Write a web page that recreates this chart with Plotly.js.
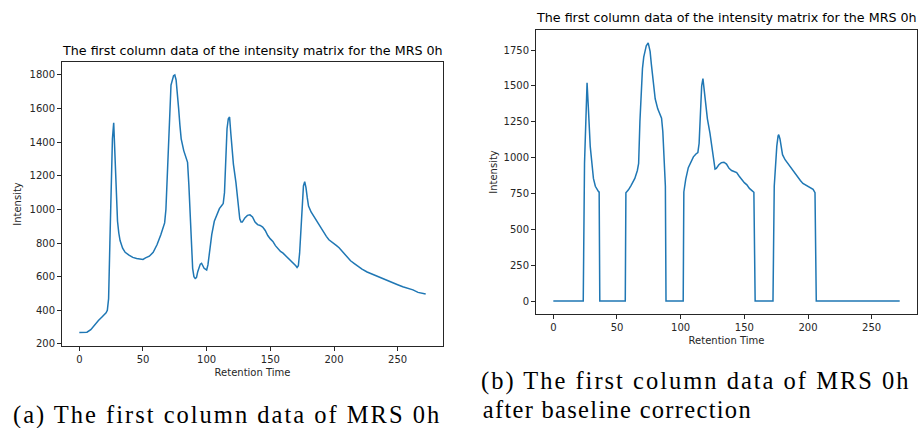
<!DOCTYPE html>
<html>
<head>
<meta charset="utf-8">
<script src="https://cdn.plot.ly/plotly-3.0.1.min.js"></script>
<style>
html,body{margin:0;padding:0;background:#fff;}
#chart{width:919px;height:428px;}
.annotation[data-index="2"] text{letter-spacing:2px;}
.annotation[data-index="3"] text{letter-spacing:2px;}
.annotation[data-index="4"] text{letter-spacing:1.3px;}
</style>
</head>
<body>
<div id="chart"></div>
<script>
// Left panel: raw first column (Retention Time vs Intensity)
const rawTime = [0,3,6,9,12,15,18,21,22,23,24,25,26,27,28,29,30,31,32,34,36,39,42,45,48,50,52,55,58,61,64,67,68,69,70,71,72,74,75,76,77,78,79,80,82,84,85,86,87,88,89,90,91,92,93,95,96,98,100,101,102,104,106,108,110,112,113,114,115,116,117,118,119,120,121,123,125,126,127,128,130,132,134,136,138,140,142,144,146,148,150,152,154,156,158,160,162,164,166,168,170,171,172,173,174,175,176,177,178,179,180,182,184,186,188,190,192,194,196,198,200,202,204,206,208,210,213,216,219,222,226,230,234,238,242,246,250,254,258,262,266,269,272];
const rawIntensity = [268,268,270,285,315,340,362,385,400,470,800,1150,1420,1515,1300,1050,930,860,815,770,745,728,715,708,705,703,712,722,745,790,850,920,1000,1200,1450,1650,1740,1795,1800,1770,1700,1600,1500,1420,1350,1300,1280,1150,950,770,650,600,590,595,630,675,680,650,640,670,740,850,930,970,1005,1025,1035,1100,1330,1480,1540,1550,1450,1330,1270,1160,1030,945,925,925,950,965,968,955,925,910,905,895,875,845,825,810,785,765,750,740,725,710,700,685,665,655,665,740,900,1060,1140,1165,1130,1070,1020,985,960,935,910,885,860,840,820,810,795,785,772,755,735,715,695,678,660,645,628,615,603,587,576,563,552,540,530,522,507,500,497];

// Right panel: after baseline correction
const corrTime = [0,23.5,24.5,25.5,26.5,27.5,29,31.5,33,35.5,36,36.5,56.5,57,59,61,64,66,67,68,69,70,71,73,74.5,76,77,78,80,82,84,85,86,87,88,88.5,102,102.5,104,106,108,110,112,113.5,114.5,115.5,116.5,117.5,118.5,120,121,123,125,126,127,128,130,132,134,136,138,140,142,144,146,148,150,152,154,156,157.5,158.5,172.5,173.5,174.5,175.5,176.5,177,178,179,180,182,184,186,188,190,192,194,196,198,200,202,204,205.5,206.5,272];
const corrIntensity = [0,0,960,1300,1522,1350,1076,855,800,762,760,0,0,755,775,805,855,910,960,1250,1450,1620,1700,1780,1800,1740,1650,1560,1410,1340,1290,1275,1180,1000,800,0,0,760,850,930,970,1005,1025,1035,1100,1350,1500,1550,1470,1330,1270,1170,1040,950,920,925,950,965,968,955,925,910,905,895,870,845,825,810,785,770,758,0,0,800,960,1080,1150,1160,1130,1070,1020,985,960,935,910,885,860,840,820,810,798,785,778,755,0,0];

const chartTitle = "The first column data of the intensity matrix for the MRS 0h";
const xLabel = "Retention Time";
const yLabel = "Intensity";
const captionA = "(a) The first column data of MRS 0h";
const captionB1 = "(b) The first column data of MRS 0h";
const captionB2 = "after baseline correction";

const W = 919, H = 428;
const px = v => v / W;
const py = v => 1 - v / H;

const lineStyle = {color: '#1f77b4', width: 1.5};
const traces = [
  {x: rawTime, y: rawIntensity, type: 'scatter', mode: 'lines', line: lineStyle, xaxis: 'x', yaxis: 'y', hoverinfo: 'x+y'},
  {x: corrTime, y: corrIntensity, type: 'scatter', mode: 'lines', line: lineStyle, xaxis: 'x2', yaxis: 'y2', hoverinfo: 'x+y'}
];

const tickFont = {family: 'DejaVu Sans', size: 10, color: '#262626'};
const axisBase = {
  showgrid: false, zeroline: false, showline: true, mirror: true,
  linecolor: '#262626', linewidth: 1, ticks: 'outside', ticklen: 4, tickwidth: 1,
  tickcolor: '#262626', tickfont: tickFont
};
const titleFont = {family: 'DejaVu Sans', size: 12.7, color: '#000'};
const capFont = {family: 'Liberation Serif', size: 24.5, color: '#000'};

const layout = {
  width: W, height: H,
  margin: {l: 0, r: 0, t: 0, b: 0},
  paper_bgcolor: '#fff', plot_bgcolor: '#fff',
  showlegend: false,
  xaxis: Object.assign({}, axisBase, {
    domain: [px(62), px(443)], anchor: 'y', range: [-13.6, 285.6],
    tickvals: [0, 50, 100, 150, 200, 250],
    title: {text: xLabel, font: tickFont, standoff: 4}
  }),
  yaxis: Object.assign({}, axisBase, {
    domain: [py(346), py(62)], anchor: 'x', range: [188, 1877],
    tickvals: [200, 400, 600, 800, 1000, 1200, 1400, 1600, 1800],
    title: {text: yLabel, font: tickFont, standoff: 6}
  }),
  xaxis2: Object.assign({}, axisBase, {
    domain: [px(536), px(917)], anchor: 'y2', range: [-13.6, 285.6],
    tickvals: [0, 50, 100, 150, 200, 250],
    title: {text: xLabel, font: tickFont, standoff: 4}
  }),
  yaxis2: Object.assign({}, axisBase, {
    domain: [py(314), py(30)], anchor: 'x2', range: [-90.6, 1889.5],
    tickvals: [0, 250, 500, 750, 1000, 1250, 1500, 1750],
    title: {text: yLabel, font: tickFont, standoff: 4}
  }),
  annotations: [
    {text: chartTitle, xref: 'paper', yref: 'paper', x: px(252), y: py(51), xanchor: 'center', yanchor: 'middle', showarrow: false, font: titleFont},
    {text: chartTitle, xref: 'paper', yref: 'paper', x: px(726.5), y: py(18), xanchor: 'center', yanchor: 'middle', showarrow: false, font: titleFont},
    {text: captionA, xref: 'paper', yref: 'paper', x: px(227), y: py(415), xanchor: 'center', yanchor: 'middle', showarrow: false, borderpad: 0, font: capFont},
    {text: captionB1, xref: 'paper', yref: 'paper', x: px(696), y: py(381), xanchor: 'center', yanchor: 'middle', showarrow: false, borderpad: 0, font: capFont},
    {text: captionB2, xref: 'paper', yref: 'paper', x: px(617), y: py(409), xanchor: 'center', yanchor: 'middle', showarrow: false, borderpad: 0, font: capFont}
  ]
};

Plotly.newPlot('chart', traces, layout, {staticPlot: true, displayModeBar: false});
</script>
</body>
</html>
